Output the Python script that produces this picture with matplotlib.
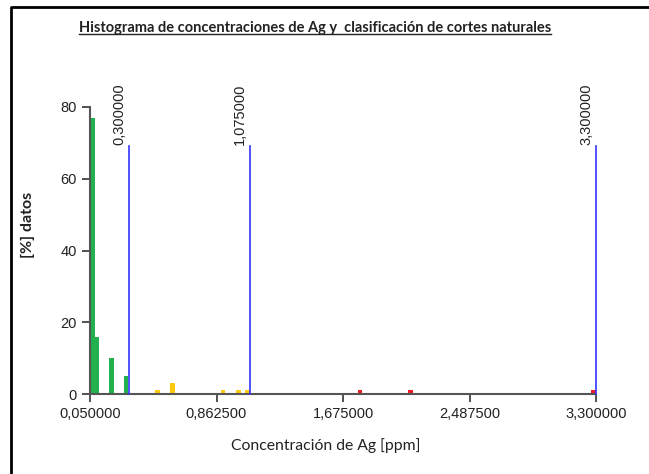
import matplotlib.pyplot as plt
from matplotlib.lines import Line2D

# concentraciones Ag [ppm] (centro de clase) y % de datos
x_verde = [0.064, 0.094, 0.188, 0.282]
y_verde = [77, 16, 10, 5]
x_amarillo = [0.482, 0.579, 0.904, 1.004, 1.063]
y_amarillo = [1, 3, 1, 1, 1]
x_rojo = [1.785, 2.108, 3.284]
y_rojo = [1, 1, 1]

cortes = [0.3, 1.075, 3.3]
cortes_txt = ['0,300000', '1,075000', '3,300000']
xticks = [0.05, 0.8625, 1.675, 2.4875, 3.3]
xtick_txt = ['0,050000', '0,862500', '1,675000', '2,487500', '3,300000']
yticks = [0, 20, 40, 60, 80]

plt.rcParams['font.family'] = ['Liberation Sans', 'DejaVu Sans']

fig = plt.figure(figsize=(6.49, 4.74), dpi=100)
ax = fig.add_axes([90/649, 1-394/474, (596-90)/649, (394-107)/474])

ancho = 0.03
ax.bar(x_verde, y_verde, ancho, color='#22B14C', zorder=2)
ax.bar(x_amarillo, y_amarillo, ancho, color='#FFC90E', zorder=2)
ax.bar(x_rojo, y_rojo, ancho, color='#ED1C24', zorder=2)

for c, t in zip(cortes, cortes_txt):
    ax.plot([c, c], [0, 69], color='#3333FF', lw=1.2, zorder=3, clip_on=False)
    ax.annotate(t, (c, 69), xytext=(-3, 1), textcoords='offset pixels',
                rotation=90, ha='right', va='bottom', fontsize=10.5, color='#222222')

ax.set_xlim(0.05, 3.3)
ax.set_ylim(0, 80)
ax.set_xticks(xticks)
ax.set_xticklabels(xtick_txt)
ax.set_yticks(yticks)
for s in ['top', 'right']:
    ax.spines[s].set_visible(False)
for s in ['left', 'bottom']:
    ax.spines[s].set_color('#555555')
    ax.spines[s].set_linewidth(1.5)
ax.tick_params(length=6, width=1.2, color='#333333', labelsize=10.5, labelcolor='#222222')

fig.text(28/649, 1-225/474, '[%] datos', rotation=90, ha='center', va='center',
         fontsize=11.5, fontweight='bold', family=['Lato', 'DejaVu Sans'], color='#222222')
fig.text(326/649, 1-446/474, 'Concentración de Ag [ppm]', ha='center', va='center',
         fontsize=11.3, family=['Lato', 'DejaVu Sans'], color='#222222')
tit = fig.text(315/649, 1-28/474, 'Histograma de concentraciones de Ag y  clasificación de cortes naturales',
               ha='center', va='center', fontsize=10.5, fontweight='bold',
               family=['Lato', 'DejaVu Sans'], color='#222222')

# subrayado del titulo
fig.canvas.draw()
bb = tit.get_window_extent().transformed(fig.transFigure.inverted())
fig.add_artist(Line2D([bb.x0, bb.x1], [bb.y0 + 0.002, bb.y0 + 0.002], color='#222222', lw=1))

# marco
fig.add_artist(Line2D([10.5/649, 10.5/649, 1], [0, 1-6.5/474, 1-6.5/474], color='black', lw=2))

fig.savefig('out.png', dpi=100)
